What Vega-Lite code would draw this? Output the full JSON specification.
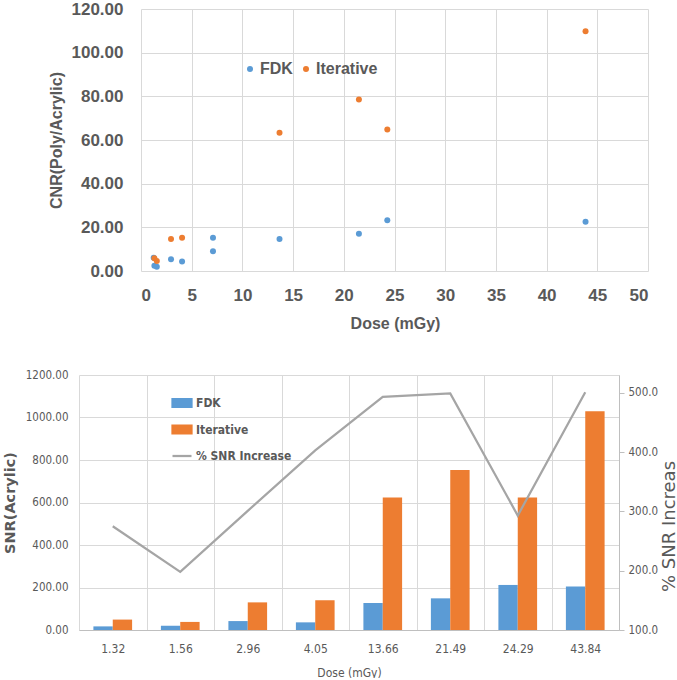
{
  "$schema": "https://vega.github.io/schema/vega-lite/v6.json",
  "padding": {"left": 2, "top": 0, "right": 0, "bottom": 0},
  "background": "white",
  "config": {"view": {"stroke": null}, "font": "Liberation Sans"},
  "datasets": {
    "cnr": [
      {"dose": 1.25, "cnr": 6.1, "method": "FDK"},
      {"dose": 1.32, "cnr": 2.4, "method": "FDK"},
      {"dose": 1.56, "cnr": 1.9, "method": "FDK"},
      {"dose": 2.96, "cnr": 5.4, "method": "FDK"},
      {"dose": 4.05, "cnr": 4.3, "method": "FDK"},
      {"dose": 7.1, "cnr": 9.1, "method": "FDK"},
      {"dose": 7.1, "cnr": 15.2, "method": "FDK"},
      {"dose": 13.66, "cnr": 14.6, "method": "FDK"},
      {"dose": 21.49, "cnr": 17.1, "method": "FDK"},
      {"dose": 24.29, "cnr": 23.3, "method": "FDK"},
      {"dose": 43.84, "cnr": 22.6, "method": "FDK"},
      {"dose": 1.32, "cnr": 5.8, "method": "Iterative"},
      {"dose": 1.56, "cnr": 4.6, "method": "Iterative"},
      {"dose": 2.96, "cnr": 14.6, "method": "Iterative"},
      {"dose": 4.05, "cnr": 15.2, "method": "Iterative"},
      {"dose": 13.66, "cnr": 63.3, "method": "Iterative"},
      {"dose": 21.49, "cnr": 78.6, "method": "Iterative"},
      {"dose": 24.29, "cnr": 64.8, "method": "Iterative"},
      {"dose": 43.84, "cnr": 109.8, "method": "Iterative"}
    ],
    "snr": [
      {"dose": "1.32", "series": "FDK", "snr": 17},
      {"dose": "1.56", "series": "FDK", "snr": 20},
      {"dose": "2.96", "series": "FDK", "snr": 42},
      {"dose": "4.05", "series": "FDK", "snr": 36},
      {"dose": "13.66", "series": "FDK", "snr": 127},
      {"dose": "21.49", "series": "FDK", "snr": 149},
      {"dose": "24.29", "series": "FDK", "snr": 212},
      {"dose": "43.84", "series": "FDK", "snr": 205},
      {"dose": "1.32", "series": "Iterative", "snr": 49},
      {"dose": "1.56", "series": "Iterative", "snr": 38},
      {"dose": "2.96", "series": "Iterative", "snr": 130},
      {"dose": "4.05", "series": "Iterative", "snr": 140},
      {"dose": "13.66", "series": "Iterative", "snr": 624},
      {"dose": "21.49", "series": "Iterative", "snr": 753},
      {"dose": "24.29", "series": "Iterative", "snr": 624},
      {"dose": "43.84", "series": "Iterative", "snr": 1029}
    ],
    "inc": [
      {"dose": "1.32", "inc": 275},
      {"dose": "1.56", "inc": 198},
      {"dose": "2.96", "inc": 301},
      {"dose": "4.05", "inc": 403},
      {"dose": "13.66", "inc": 493},
      {"dose": "21.49", "inc": 499},
      {"dose": "24.29", "inc": 293},
      {"dose": "43.84", "inc": 501}
    ]
  },
  "spacing": 38,
  "resolve": {"scale": {"color": "independent"}, "legend": {"color": "independent"}},
  "vconcat": [
    {
      "width": 569,
      "height": 262,
      "data": {"name": "cnr"},
      "mark": {"type": "circle", "size": 36, "opacity": 1},
      "encoding": {
        "x": {
          "field": "dose", "type": "quantitative",
          "scale": {"domain": [0, 50], "range": [62, 569], "nice": false, "zero": false},
          "axis": {
            "values": [0, 5, 10, 15, 20, 25, 30, 35, 40, 45, 50],
            "title": "Dose (mGy)",
            "grid": true, "gridColor": "#d9d9d9", "domain": false, "ticks": false,
            "labelFontSize": 17, "labelFontWeight": "bold", "labelColor": "#595959", "labelPadding": 16,
            "titleFontSize": 16, "titleFontWeight": "bold", "titleColor": "#595959",
            "titleX": 316, "titleY": 52, "titleAlign": "center", "titleBaseline": "middle"
          }
        },
        "y": {
          "field": "cnr", "type": "quantitative",
          "scale": {"domain": [0, 120], "nice": false},
          "axis": {
            "values": [0, 20, 40, 60, 80, 100, 120],
            "format": ".2f",
            "offset": -62,
            "title": "CNR(Poly/Acrylic)",
            "grid": true, "gridColor": "#d9d9d9", "domain": false, "ticks": false,
            "labelFontSize": 17, "labelFontWeight": "bold", "labelColor": "#595959", "labelPadding": 18,
            "titleFontSize": 16, "titleFontWeight": "bold", "titleColor": "#595959",
            "titleX": -84.5, "titleY": 131, "titleAngle": 270, "titleAlign": "center", "titleBaseline": "middle"
          }
        },
        "color": {
          "field": "method", "type": "nominal",
          "scale": {"domain": ["FDK", "Iterative"], "range": ["#5b9bd5", "#ed7d31"]},
          "legend": {
            "orient": "none", "legendX": 163, "legendY": 52, "direction": "horizontal",
            "title": null, "padding": 0, "symbolType": "circle", "symbolSize": 36,
            "symbolStrokeWidth": 0,
            "labelFontSize": 16, "labelFontWeight": "bold", "labelColor": "#595959",
            "labelOffset": 2, "columnPadding": 5
          }
        }
      }
    },
    {
      "width": 540,
      "height": 255,
      "resolve": {"scale": {"y": "independent"}},
      "layer": [
        {
          "data": {"name": "snr"},
          "mark": {"type": "bar"},
          "encoding": {
            "x": {
              "field": "dose", "type": "nominal",
              "sort": ["1.32", "1.56", "2.96", "4.05", "13.66", "21.49", "24.29", "43.84"],
              "scale": {"paddingInner": 0, "paddingOuter": 0},
              "axis": {
                "title": "Dose (mGy)", "labelAngle": 0, "tickBand": "extent",
                "grid": true, "gridColor": "#d9d9d9", "ticks": false,
                "domain": true, "domainColor": "#bfbfbf",
                "labelFont": "DejaVu Sans Condensed, Roboto", "labelFontSize": 12, "labelColor": "#595959", "labelPadding": 13,
                "titleFont": "DejaVu Sans Condensed, Roboto", "titleFontSize": 12, "titleFontWeight": "normal", "titleColor": "#595959",
                "titleY": 42, "titleBaseline": "middle"
              }
            },
            "xOffset": {
              "field": "series", "type": "nominal",
              "scale": {"domain": ["FDK", "Iterative"], "paddingInner": 0, "paddingOuter": 0.744}
            },
            "y": {
              "field": "snr", "type": "quantitative",
              "scale": {"domain": [0, 1200], "nice": false},
              "axis": {
                "values": [0, 200, 400, 600, 800, 1000, 1200],
                "format": ".2f",
                "title": "SNR(Acrylic)",
                "grid": true, "gridColor": "#d9d9d9", "domain": false, "ticks": false,
                "labelFont": "DejaVu Sans Condensed, Roboto", "labelFontSize": 11.5, "labelColor": "#595959", "labelPadding": 11,
                "titleFont": "DejaVu Sans", "titleFontSize": 14.5, "titleFontWeight": "bold", "titleColor": "#595959",
                "titleX": -69, "titleY": 127.5, "titleAngle": 270, "titleAlign": "center", "titleBaseline": "middle"
              }
            },
            "color": {
              "field": "series", "type": "nominal",
              "scale": {"domain": ["FDK", "Iterative", "% SNR Increase"], "range": ["#5b9bd5", "#ed7d31", "#a5a5a5"]},
              "legend": {
                "orient": "none", "legendX": 92, "legendY": 17, "direction": "vertical",
                "title": null, "padding": 0, "symbolSize": 361, "rowPadding": 6.5, "labelOffset": 3,
                "labelFont": "DejaVu Sans Condensed, Roboto", "labelFontSize": 12, "labelFontWeight": "bold", "labelColor": "#595959",
                "encode": {
                  "symbols": {
                    "update": {
                      "shape": {"signal": "datum.value === '% SNR Increase' ? 'M-1,0L1,0' : 'M-1,-0.42L1,-0.42L1,0.42L-1,0.42Z'"},
                      "fill": {"signal": "datum.value === '% SNR Increase' ? 'transparent' : (datum.value === 'FDK' ? '#5b9bd5' : '#ed7d31')"},
                      "stroke": {"signal": "datum.value === '% SNR Increase' ? '#a5a5a5' : 'transparent'"},
                      "strokeWidth": {"value": 2.25},
                      "opacity": {"value": 1},
                      "fillOpacity": {"value": 1}
                    }
                  }
                }
              }
            }
          }
        },
        {
          "data": {"name": "inc"},
          "mark": {"type": "line", "strokeWidth": 2.25},
          "encoding": {
            "x": {
              "field": "dose", "type": "nominal",
              "sort": ["1.32", "1.56", "2.96", "4.05", "13.66", "21.49", "24.29", "43.84"]
            },
            "y": {
              "field": "inc", "type": "quantitative",
              "scale": {"domain": [100, 530], "nice": false, "zero": false},
              "axis": {
                "orient": "right",
                "values": [100, 200, 300, 400, 500],
                "format": ".1f",
                "title": "% SNR Increas",
                "grid": false, "domain": true, "domainColor": "#bfbfbf",
                "ticks": true, "tickColor": "#bfbfbf", "tickSize": 5,
                "labelFont": "DejaVu Sans Condensed, Roboto", "labelFontSize": 11.5, "labelColor": "#595959", "labelPadding": 4,
                "titleFont": "DejaVu Sans", "titleFontSize": 18, "titleFontWeight": "normal", "titleColor": "#595959",
                "titleX": 50, "titleY": 151, "titleAngle": 270, "titleAlign": "center", "titleBaseline": "middle"
              }
            },
            "color": {"datum": "% SNR Increase"}
          }
        }
      ]
    }
  ]
}
